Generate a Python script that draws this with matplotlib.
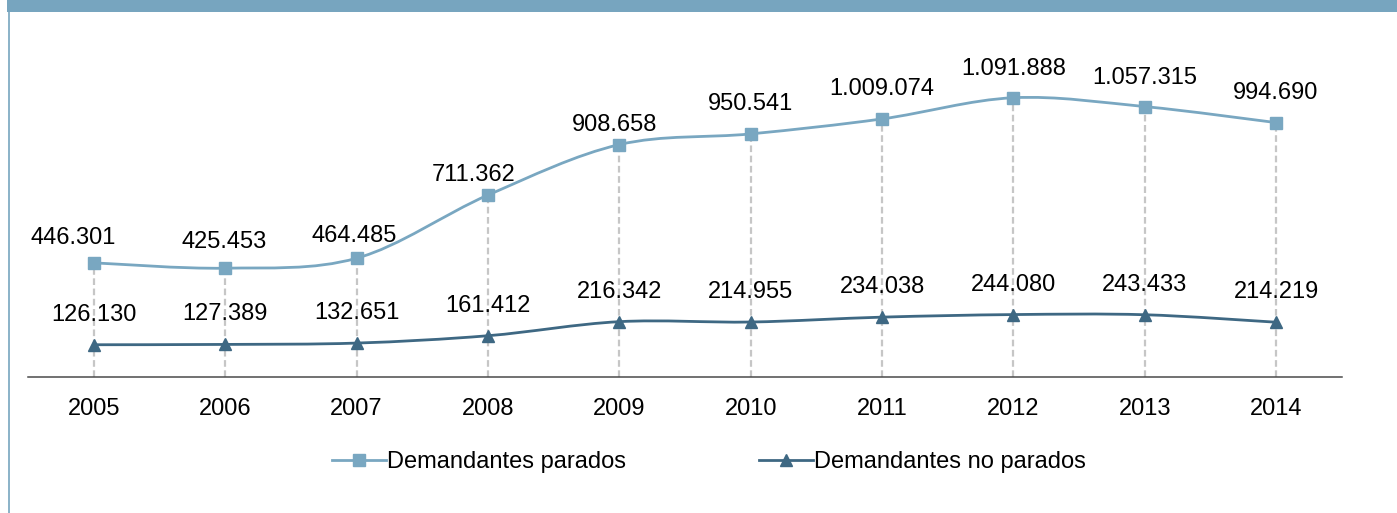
import numpy as np
import matplotlib
matplotlib.use("Agg")
import matplotlib.pyplot as plt
from matplotlib.path import Path
from matplotlib.patches import PathPatch, Rectangle
from matplotlib.lines import Line2D

plt.rcParams["font.family"] = ["Liberation Sans", "DejaVu Sans"]

YEARS = ["2005", "2006", "2007", "2008", "2009", "2010", "2011", "2012", "2013", "2014"]
PARADOS = [446301, 425453, 464485, 711362, 908658, 950541, 1009074, 1091888, 1057315, 994690]
NO_PARADOS = [126130, 127389, 132651, 161412, 216342, 214955, 234038, 244080, 243433, 214219]
LABELS = ["Demandantes parados", "Demandantes no parados"]

# label nudges in pixels (dx, dy above the marker) so text clears the curve
SHIFT_PARADOS = [(-21, 25), (-1.5, 26), (-2.5, 22.5), (-14, 20.5), (-4.5, 19.5),
                 (0, 30), (0, 30), (0, 28.5), (0, 29), (0, 30)]
SHIFT_NO_PARADOS = [(0, 30)] * 10

C_LIGHT = "#79A7C1"
C_DARK = "#3E6883"
C_FRAME = "#77A5BF"
FS = 17

W, H = 1397, 513
PT = 72 / 100  # points per pixel at 100 dpi


def fmt(v):
    return f"{v:,}".replace(",", ".")


def smooth_path(xs, ys):
    # Catmull-Rom style cubic Bezier segments through every point
    p = np.column_stack([xs, ys]).astype(float)
    n = len(p)
    verts = [p[0]]
    codes = [Path.MOVETO]
    for i in range(n - 1):
        p0 = p[i - 1] if i > 0 else p[i]
        p3 = p[i + 2] if i + 2 < n else p[i + 1]
        c1 = p[i] + (p[i + 1] - p0) / 6
        c2 = p[i + 1] - (p3 - p[i]) / 6
        verts += [c1, c2, p[i + 1]]
        codes += [Path.CURVE4] * 3
    return Path(verts, codes)


fig = plt.figure(figsize=(W / 100, H / 100), dpi=100)
left, right = 28.3 / W, 1341.7 / W
bottom, top = 1 - 377 / H, 1 - 40 / H
ax = fig.add_axes([left, bottom, right - left, top - bottom])

x = np.arange(len(YEARS))
px_per_unit = (344 - 97) / (1091888 - 126130)
ax.set_xlim(-0.5, len(YEARS) - 0.5)
ax.set_ylim(0, (377 - 40) / px_per_unit)

# dashed drop lines from the top series down to the axis
for xi, v in zip(x, PARADOS):
    ax.plot([xi, xi], [0, v], ls=(0, (3, 1.6)), color="#C6C6C6", lw=1.6, zorder=1)

series = [(PARADOS, SHIFT_PARADOS, C_LIGHT, "s", 8),
          (NO_PARADOS, SHIFT_NO_PARADOS, C_DARK, "^", 8.5)]
for vals, shifts, col, mk, ms in series:
    ax.add_patch(PathPatch(smooth_path(x, vals), fill=False, edgecolor=col, lw=2.0, zorder=2))
    ax.plot(x, vals, ls="none", marker=mk, ms=ms, color=col, mec=col, zorder=3)
    for xi, v, (dx, dy) in zip(x, vals, shifts):
        ax.annotate(fmt(v), (xi, v), xytext=(dx * PT, dy * PT), textcoords="offset points",
                    ha="center", va="center", fontsize=FS, color="black", zorder=4)

ax.set_xticks(x)
ax.set_xticklabels(YEARS, fontsize=FS)
ax.tick_params(axis="x", length=0, pad=15)
ax.set_yticks([])
for sp in ("top", "right", "left"):
    ax.spines[sp].set_visible(False)
ax.spines["bottom"].set_color("#4A4A4A")
ax.spines["bottom"].set_linewidth(1.1)
ax.spines["bottom"].set_zorder(5)

handles = [Line2D([], [], color=C_LIGHT, lw=2.0, marker="s", ms=8),
           Line2D([], [], color=C_DARK, lw=2.0, marker="^", ms=8.5)]
fig.legend(handles, LABELS, loc="center", bbox_to_anchor=(709 / W, 1 - 462 / H), ncol=2,
           frameon=False, fontsize=FS, handlelength=2.3, handletextpad=0.05,
           columnspacing=5.6)

# header band and left frame line
fig.patches.append(Rectangle((7 / W, 1 - 12 / H), 1, 12 / H, transform=fig.transFigure,
                             facecolor=C_FRAME, edgecolor="none", zorder=0))
fig.lines.append(Line2D([8.5 / W, 8.5 / W], [0, 1 - 12 / H], transform=fig.transFigure,
                        color=C_FRAME, lw=1.2))

fig.savefig("out.png", dpi=100)
